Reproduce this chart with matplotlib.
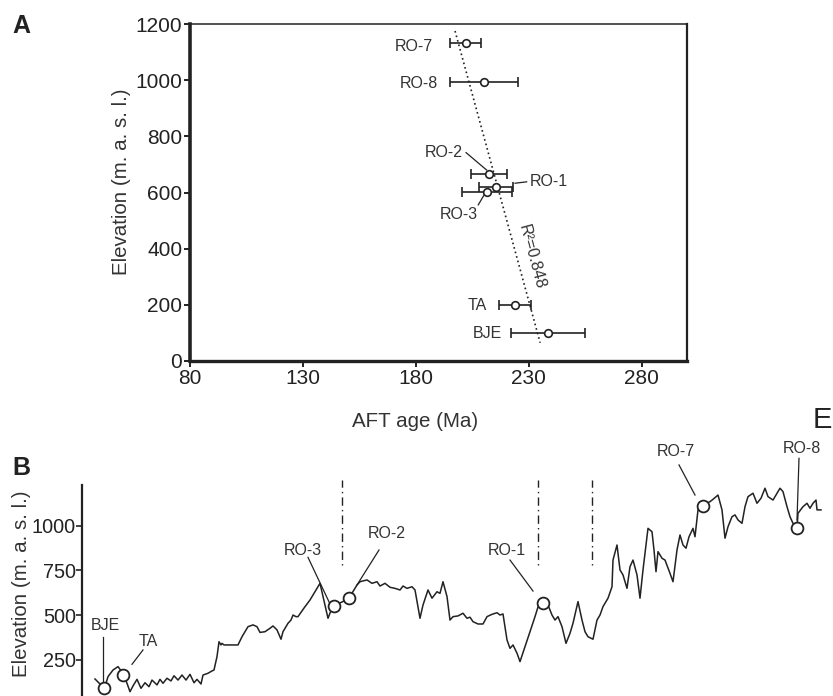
import numpy as np
import matplotlib
matplotlib.use("Agg")
import matplotlib.pyplot as plt

plt.rcParams['font.family'] = ['Liberation Sans', 'DejaVu Sans']

# ---- panel A: AFT age vs elevation
samples = ["RO-7", "RO-8", "RO-2", "RO-1", "RO-3", "TA", "BJE"]
aft_age = [202, 210, 212.5, 215.5, 211.5, 224, 238.5]
aft_err = [7, 15, 8, 7.5, 11, 7, 16.5]
sample_elev = [1133, 993, 666, 621, 603, 199, 99]
r2_text = "R²=0.848"

# ---- panel B: topographic profile (distance in km, elevation in m)
prof_dist = [1.3, 1.8, 2.2, 2.6, 3.1, 3.6, 3.8, 4.1, 4.5, 4.8, 5.1, 5.5, 5.9, 6.3,
             6.7, 7.0, 7.5, 7.8, 8.1, 8.5, 8.9, 9.2, 9.6, 10.0, 10.4, 10.8, 11.2,
             11.5, 11.9, 12.1, 12.6, 13.0, 13.2, 13.5, 13.7, 13.9, 14.0, 14.2, 15.6,
             16.0, 16.4, 16.6, 17.1, 17.5, 17.8, 18.3, 18.8, 19.1, 19.5, 19.9, 20.1,
             20.6, 20.9, 21.1, 21.4, 21.6, 22.2, 22.8, 23.8, 24.6, 25.0, 25.2, 26.0,
             26.7, 27.5, 27.8, 28.5, 29.0, 29.5, 29.8, 30.3, 30.8, 31.3, 31.8, 32.1,
             32.5, 33.0, 33.3, 33.8, 34.1, 34.6, 35.0, 35.5, 35.8, 36.1, 36.5, 36.8,
             37.1, 37.6, 38.1, 38.5, 38.8, 39.1, 39.6, 40.1, 40.5, 41.0, 41.5, 41.8,
             42.1, 42.5, 42.8, 43.1, 43.5, 43.8, 44.3, 44.8, 45.3, 45.6, 46.1, 46.6,
             47.0, 47.3, 47.6, 48.0, 48.4, 48.8, 49.1, 49.6, 50.0, 50.3, 50.6, 51.1,
             51.5, 51.8, 52.1, 52.6, 53.0, 53.1, 53.5, 53.8, 54.1, 54.5, 54.8, 55.1,
             55.5, 55.8, 56.1, 56.6, 57.0, 57.2, 57.4, 57.6, 58.0, 58.3, 58.8, 59.1,
             59.5, 59.8, 60.1, 60.4, 60.7, 61.1, 61.3, 61.6, 62.1, 62.8, 63.1, 63.6,
             64.0, 64.3, 64.6, 65.0, 65.3, 65.6, 66.0, 66.3, 66.6, 67.1, 67.5, 67.9,
             68.3, 68.6, 69.1, 69.5, 69.8, 70.1, 70.5, 70.8, 71.1, 71.5, 71.6, 72.1,
             72.5, 72.8, 73.1, 73.4, 73.5, 73.9]
prof_elev = [144, 116, 83, 157, 194, 213, 198, 176, 120, 73, 105, 142, 92, 123,
             101, 138, 111, 142, 120, 148, 133, 162, 138, 166, 138, 170, 123,
             142, 116, 166, 176, 189, 194, 269, 352, 334, 343, 334, 334,
             380, 418, 436, 446, 436, 404, 408, 427, 440, 418, 366, 408,
             455, 473, 501, 492, 492, 540, 585, 678, 483, 540, 552, 574,
             595, 669, 687, 697, 678, 687, 663, 678, 656, 650, 641, 663,
             650, 659, 641, 483, 557, 641, 595, 631, 622, 687, 604, 473,
             492, 496, 511, 483, 489, 464, 451, 451, 492, 505, 514, 501,
             507, 362, 315, 334, 288, 241, 324, 408, 492, 546, 567, 557,
             501, 473, 492, 436, 343, 399, 455, 576, 473, 408, 380, 366,
             473, 501, 548, 595, 659, 808, 892, 753, 725, 650, 771, 808,
             725, 595, 753, 985, 966, 864, 743, 855, 818, 808, 734, 687,
             864, 948, 892, 874, 938, 985, 938, 1088, 1115, 1134, 1147, 1171,
             1088, 930, 994, 1050, 1060, 1032, 1013, 1106, 1162, 1181, 1125, 1153,
             1209, 1162, 1143, 1181, 1209, 1190, 1106, 1050, 1013, 985, 1069, 1106,
             1125, 1097, 1125, 1143, 1088, 1088]

prof_samples = ["BJE", "TA", "RO-3", "RO-2", "RO-1", "RO-7", "RO-8"]
prof_samp_dist = [2.2, 4.1, 25.2, 26.7, 46.1, 62.1, 71.5]
prof_samp_elev = [94, 166, 552, 595, 567, 1110, 985]
boundary_dist = [26.0, 45.6, 51.0]

ink = "#222222"
txt = "#333333"

fig = plt.figure(figsize=(8.33, 6.96), dpi=100)
W, H = 833, 696

# ================= panel A =================
axA = fig.add_axes([190 / W, 1 - 361 / H, 497 / W, 337 / H])
axA.errorbar(aft_age, sample_elev, xerr=aft_err, fmt='o', ms=5.5, mfc='white',
             mec=ink, mew=1.2, ecolor=ink, elinewidth=1.2, capsize=3.5,
             capthick=1.2, zorder=3)

# least squares fit of elevation on age, drawn across the data range
slope, icpt = np.polyfit(aft_age, sample_elev, 1)
fit_e = np.array([1175, 65])
axA.plot((fit_e - icpt) / slope, fit_e, color=ink, lw=1.2,
         linestyle=(0, (1, 1.8)), zorder=2)

axA.set_xlim(80, 300)
axA.set_ylim(0, 1200)
axA.set_xticks([80, 130, 180, 230, 280])
axA.set_yticks(range(0, 1201, 200))
axA.tick_params(direction='out', length=4, width=1.4, labelsize=15,
                pad=1.5, colors=ink)
for side, lw in [('left', 2.6), ('bottom', 2.4), ('top', 1.1), ('right', 1.6)]:
    axA.spines[side].set_linewidth(lw)
    axA.spines[side].set_color(ink)

lab_kw = dict(fontsize=11.5, color=txt, va='center')
axA.text(187.4, 1121, "RO-7", ha='right', **lab_kw)
axA.text(189.9, 989, "RO-8", ha='right', **lab_kw)
axA.text(200.7, 743, "RO-2", ha='right', **lab_kw)
axA.text(230.5, 638, "RO-1", ha='left', **lab_kw)
axA.text(207.4, 520, "RO-3", ha='right', **lab_kw)
axA.text(211.6, 199, "TA", ha='right', **lab_kw)
axA.text(218.0, 99, "BJE", ha='right', **lab_kw)
lead_kw = dict(color=ink, lw=0.9)
axA.plot([202.2, 211.3], [742, 680], **lead_kw)
axA.plot([223.9, 229.0], [633, 638], **lead_kw)
axA.plot([207.6, 210.6], [556, 597], **lead_kw)
axA.text(231.3, 371, r2_text, rotation=-75, rotation_mode='anchor',
         ha='center', va='center', fontsize=11.5, color=txt)

fig.text(121.7 / W, 1 - 181.7 / H, "Elevation (m. a. s. l.)", rotation=90,
         ha='center', va='center', fontsize=14.8, color=txt)
fig.text(415.5 / W, 1 - 421.7 / H, "AFT age (Ma)", ha='center', va='center',
         fontsize=14.8, color=txt)
fig.text(12 / W, 1 - 33 / H, "A", fontsize=18, fontweight='bold', color=ink)
fig.text(12 / W, 1 - 475 / H, "B", fontsize=18, fontweight='bold', color=ink)
fig.text(813 / W, 1 - 428 / H, "E", fontsize=21, color=ink)

# ================= panel B =================
axB = fig.add_axes([82 / W, 0, (W - 82) / W, (H - 485) / H])
axB.set_xlim(0, 75.1)
axB.set_ylim(49, 1227)
axB.plot(prof_dist, prof_elev, color=ink, lw=1.1, zorder=2)
axB.plot(prof_samp_dist, prof_samp_elev, 'o', ms=8.5, mfc='white', mec=ink,
         mew=1.3, zorder=3, clip_on=False)
for d in boundary_dist:
    axB.plot([d, d], [780, 1255], color=ink, lw=1.0,
             linestyle=(0, (1, 3, 6, 3)), clip_on=False)

# sample labels with leader lines
b_labels = {
    "BJE": ((2.3, 440), (2.1, 380), (2.1, 120)),
    "TA": ((6.6, 356), (6.1, 306), (5.0, 226)),
    "RO-3": ((22.1, 864), (22.6, 823), (24.8, 563)),
    "RO-2": ((30.5, 954), (29.7, 864), (27.5, 669)),
    "RO-1": ((42.5, 864), (42.8, 808), (45.1, 635)),
    "RO-7": ((59.4, 1413), (59.7, 1339), (61.3, 1171)),
    "RO-8": ((72.0, 1432), (71.7, 1376), (71.5, 1032)),
}
for name, (tpos, p0, p1) in b_labels.items():
    axB.text(tpos[0], tpos[1], name, ha='center', va='center', fontsize=11.5,
             color=txt, clip_on=False)
    axB.plot([p0[0], p1[0]], [p0[1], p1[1]], color=ink, lw=0.9, clip_on=False)

axB.set_yticks([250, 500, 750, 1000])
axB.set_xticks([])
axB.tick_params(direction='out', length=4, width=1.2, labelsize=14.3, pad=0.5,
                colors=ink)
for side in ['top', 'right', 'bottom']:
    axB.spines[side].set_visible(False)
axB.spines['left'].set_linewidth(1.6)
axB.spines['left'].set_color(ink)
axB.patch.set_alpha(0)

fig.text(21.7 / W, 1 - 583.5 / H, "Elevation (m. a. s. l.)", rotation=90,
         ha='center', va='center', fontsize=14.8, color=txt)

fig.savefig("out.png", dpi=100)
